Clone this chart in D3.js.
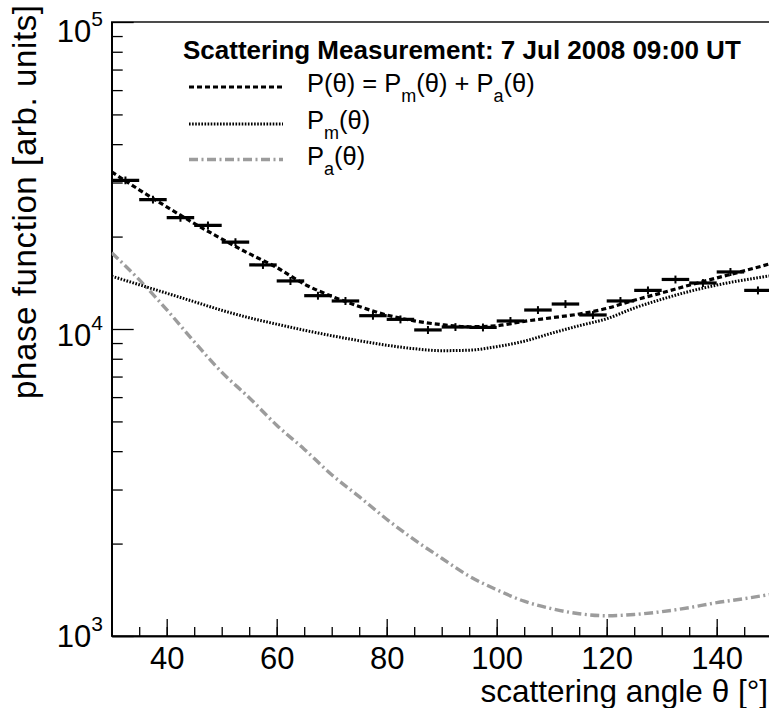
<!DOCTYPE html>
<html>
<head>
<meta charset="utf-8">
<script src="https://cdn.jsdelivr.net/npm/d3@7"></script>
<style>
  html, body { margin: 0; padding: 0; background: #fff; }
  svg { display: block; font-family: "Liberation Sans", Arial, Helvetica, sans-serif; }
</style>
</head>
<body>
<svg id="chart" width="769" height="708"></svg>
<script>
// Measured phase function, 5-degree bins
const binLow   = [30, 35, 40, 45, 50, 55, 60, 65, 70, 75, 80, 85, 90, 95, 100, 105, 110, 115, 120, 125, 130, 135, 140, 145];
const binHigh  = [35, 40, 45, 50, 55, 60, 65, 70, 75, 80, 85, 90, 95, 100, 105, 110, 115, 120, 125, 130, 135, 140, 145, 150];
const measured = [30500, 26400, 23050, 21750, 19200, 16170, 14340, 12840, 12340, 11050, 10750, 9930,
                  10150, 10120, 10620, 11530, 12060, 11110, 12340, 13360, 14500, 14120, 15340, 13360];
const measErr  = [900, 780, 690, 650, 570, 480, 430, 380, 370, 330, 320, 300,
                  300, 300, 320, 340, 360, 330, 370, 400, 430, 420, 460, 400];

// Fitted curves sampled every 5 degrees
const thetaFit = [30, 35, 40, 45, 50, 55, 60, 65, 70, 75, 80, 85, 90, 95, 100, 105, 110, 115, 120, 125, 130, 135, 140, 145, 150];
const pTotal   = [32480, 28410, 24990, 22080, 19650, 17590, 15870, 14010, 12780, 11840, 11110, 10630, 10330,
                  10170, 10250, 10590, 10880, 11190, 11670, 12410, 13110, 13890, 14660, 15470, 16360];
const pMol     = [14860, 13940, 13080, 12270, 11510, 10880, 10370, 9910, 9510, 9160, 8855, 8625, 8500,
                  8530, 8760, 9125, 9690, 10250, 10800, 11700, 12500, 13250, 13900, 14450, 14920];
const pAer     = [17720, 14475, 11560, 9090, 7235, 5973, 4860, 4060, 3353, 2843, 2401, 2059, 1792,
                  1566, 1415, 1298, 1227, 1182, 1164, 1175, 1200, 1237, 1284, 1323, 1368];

const xMajor = [40, 60, 80, 100, 120, 140];
const xMinor = d3.range(30, 151, 5);
const yDecades = [1e3, 1e4, 1e5];
const yMinor = [2e3, 3e3, 4e3, 5e3, 6e3, 7e3, 8e3, 9e3, 2e4, 3e4, 4e4, 5e4, 6e4, 7e4, 8e4, 9e4];

const legendTitle = "Scattering Measurement: 7 Jul 2008 09:00 UT";
const xTitle = "scattering angle \u03b8 [\u00b0]";
const yTitle = "phase function [arb. units]";

// Frame
const frame = { left: 111.7, right: 771.7, top: 22, bottom: 636 };
const svg = d3.select("#chart");

const x = d3.scaleLinear().domain([30, 150]).range([frame.left, frame.right]);
const y = d3.scaleLog().domain([1e3, 1e5]).range([frame.bottom, frame.top]);

svg.append("defs").append("clipPath").attr("id", "plotClip")
  .append("rect")
  .attr("x", frame.left).attr("y", frame.top)
  .attr("width", frame.right - frame.left).attr("height", frame.bottom - frame.top);

// Box
svg.append("rect")
  .attr("x", frame.left).attr("y", frame.top)
  .attr("width", frame.right - frame.left).attr("height", frame.bottom - frame.top)
  .attr("fill", "none").attr("stroke", "#000").attr("stroke-width", 1.4);

// X axis: minor then major ticks pointing inwards
const gxMinor = svg.append("g").attr("transform", `translate(0,${frame.bottom})`)
  .call(d3.axisBottom(x).tickValues(xMinor).tickSize(-9).tickSizeOuter(0).tickFormat(""));
const gxMajor = svg.append("g").attr("transform", `translate(0,${frame.bottom})`)
  .call(d3.axisBottom(x).tickValues(xMajor).tickSize(-17).tickSizeOuter(0).tickPadding(11)
        .tickFormat(d3.format("d")));
[gxMinor, gxMajor].forEach(g => {
  g.select(".domain").attr("stroke", "#000").attr("stroke-width", 1.4);
  g.selectAll(".tick line").attr("stroke", "#000").attr("stroke-width", 1.3);
});
gxMajor.selectAll(".tick text")
  .attr("font-size", 31).attr("fill", "#000")
  .attr("font-family", "Liberation Sans, Arial, sans-serif");

// Y axis
const gyMinor = svg.append("g").attr("transform", `translate(${frame.left},0)`)
  .call(d3.axisLeft(y).tickValues(yMinor).tickSize(-11).tickSizeOuter(0).tickFormat(""));
const gyMajor = svg.append("g").attr("transform", `translate(${frame.left},0)`)
  .call(d3.axisLeft(y).tickValues(yDecades).tickSize(-22).tickSizeOuter(0).tickFormat(""));
[gyMinor, gyMajor].forEach(g => {
  g.select(".domain").attr("stroke", "#000").attr("stroke-width", 1.4);
  g.selectAll(".tick line").attr("stroke", "#000").attr("stroke-width", 1.3);
});

// Decade labels 10^n
const yLab = svg.append("g").attr("font-size", 31).attr("fill", "#000");
yDecades.forEach(v => {
  const base = Math.max(42, Math.min(647, y(v) + 17));
  const t = yLab.append("text").attr("x", 103).attr("y", base).attr("text-anchor", "end");
  t.append("tspan").text("10");
  t.append("tspan").attr("font-size", 21).attr("dy", -16).text(Math.round(Math.log10(v)));
});

// Axis titles
svg.append("text")
  .attr("x", 768).attr("y", 702).attr("text-anchor", "end")
  .attr("font-size", 31.5).attr("fill", "#000").text(xTitle);
svg.append("text")
  .attr("transform", "translate(36,5) rotate(-90)")
  .attr("text-anchor", "end")
  .attr("font-size", 33).attr("textLength", 394).attr("lengthAdjust", "spacing")
  .attr("fill", "#000").text(yTitle);

// Curves
const plot = svg.append("g").attr("clip-path", "url(#plotClip)");
const curveLine = d3.line().x(d => x(d[0])).y(d => y(d[1])).curve(d3.curveMonotoneX);

const styles = {
  total: { stroke: "#000", width: 3.2, dash: "5,3" },
  mol:   { stroke: "#000", width: 3, dash: "1.6,1.5" },
  aer:   { stroke: "#9c9c9c", width: 3.4, dash: "9,3.5,2,3.5" }
};

plot.append("path")
  .datum(thetaFit.map((t, i) => [t, pAer[i]]))
  .attr("d", curveLine).attr("fill", "none")
  .attr("stroke", styles.aer.stroke).attr("stroke-width", styles.aer.width)
  .attr("stroke-dasharray", styles.aer.dash);
plot.append("path")
  .datum(thetaFit.map((t, i) => [t, pMol[i]]))
  .attr("d", curveLine).attr("fill", "none")
  .attr("stroke", styles.mol.stroke).attr("stroke-width", styles.mol.width)
  .attr("stroke-dasharray", styles.mol.dash);

// Measured bins with error bars
const pts = plot.append("g");
measured.forEach((v, i) => {
  const xc = x((binLow[i] + binHigh[i]) / 2);
  pts.append("line")
    .attr("x1", x(binLow[i])).attr("x2", x(binHigh[i]))
    .attr("y1", y(v)).attr("y2", y(v))
    .attr("stroke", "#000").attr("stroke-width", 3.2);
  pts.append("line")
    .attr("x1", xc).attr("x2", xc)
    .attr("y1", y(v - measErr[i])).attr("y2", y(v + measErr[i]))
    .attr("stroke", "#000").attr("stroke-width", 2);
});

plot.append("path")
  .datum(thetaFit.map((t, i) => [t, pTotal[i]]))
  .attr("d", curveLine).attr("fill", "none")
  .attr("stroke", styles.total.stroke).attr("stroke-width", styles.total.width)
  .attr("stroke-dasharray", styles.total.dash);

// Legend
const leg = svg.append("g").attr("fill", "#000");
leg.append("text").attr("x", 183).attr("y", 59)
  .attr("font-size", 26).attr("font-weight", "bold").text(legendTitle);

const entries = [
  { style: styles.total, yLine: 87, parts: [["P(\u03b8) = P", 0], ["m", 1], ["(\u03b8) + P", 0], ["a", 1], ["(\u03b8)", 0]] },
  { style: styles.mol,   yLine: 124, parts: [["P", 0], ["m", 1], ["(\u03b8)", 0]] },
  { style: styles.aer,   yLine: 159.5, parts: [["P", 0], ["a", 1], ["(\u03b8)", 0]] }
];
entries.forEach(e => {
  leg.append("line")
    .attr("x1", 189).attr("x2", 283).attr("y1", e.yLine).attr("y2", e.yLine)
    .attr("stroke", e.style.stroke).attr("stroke-width", e.style.width)
    .attr("stroke-dasharray", e.style.dash);
  const t = leg.append("text").attr("x", 307).attr("y", e.yLine + 5).attr("font-size", 25.5);
  let shifted = false;
  e.parts.forEach(([s, sub]) => {
    const sp = t.append("tspan").text(s);
    if (sub && !shifted) { sp.attr("font-size", 18).attr("dy", 10); shifted = true; }
    else if (!sub && shifted) { sp.attr("dy", -10); shifted = false; }
  });
});
</script>
</body>
</html>
